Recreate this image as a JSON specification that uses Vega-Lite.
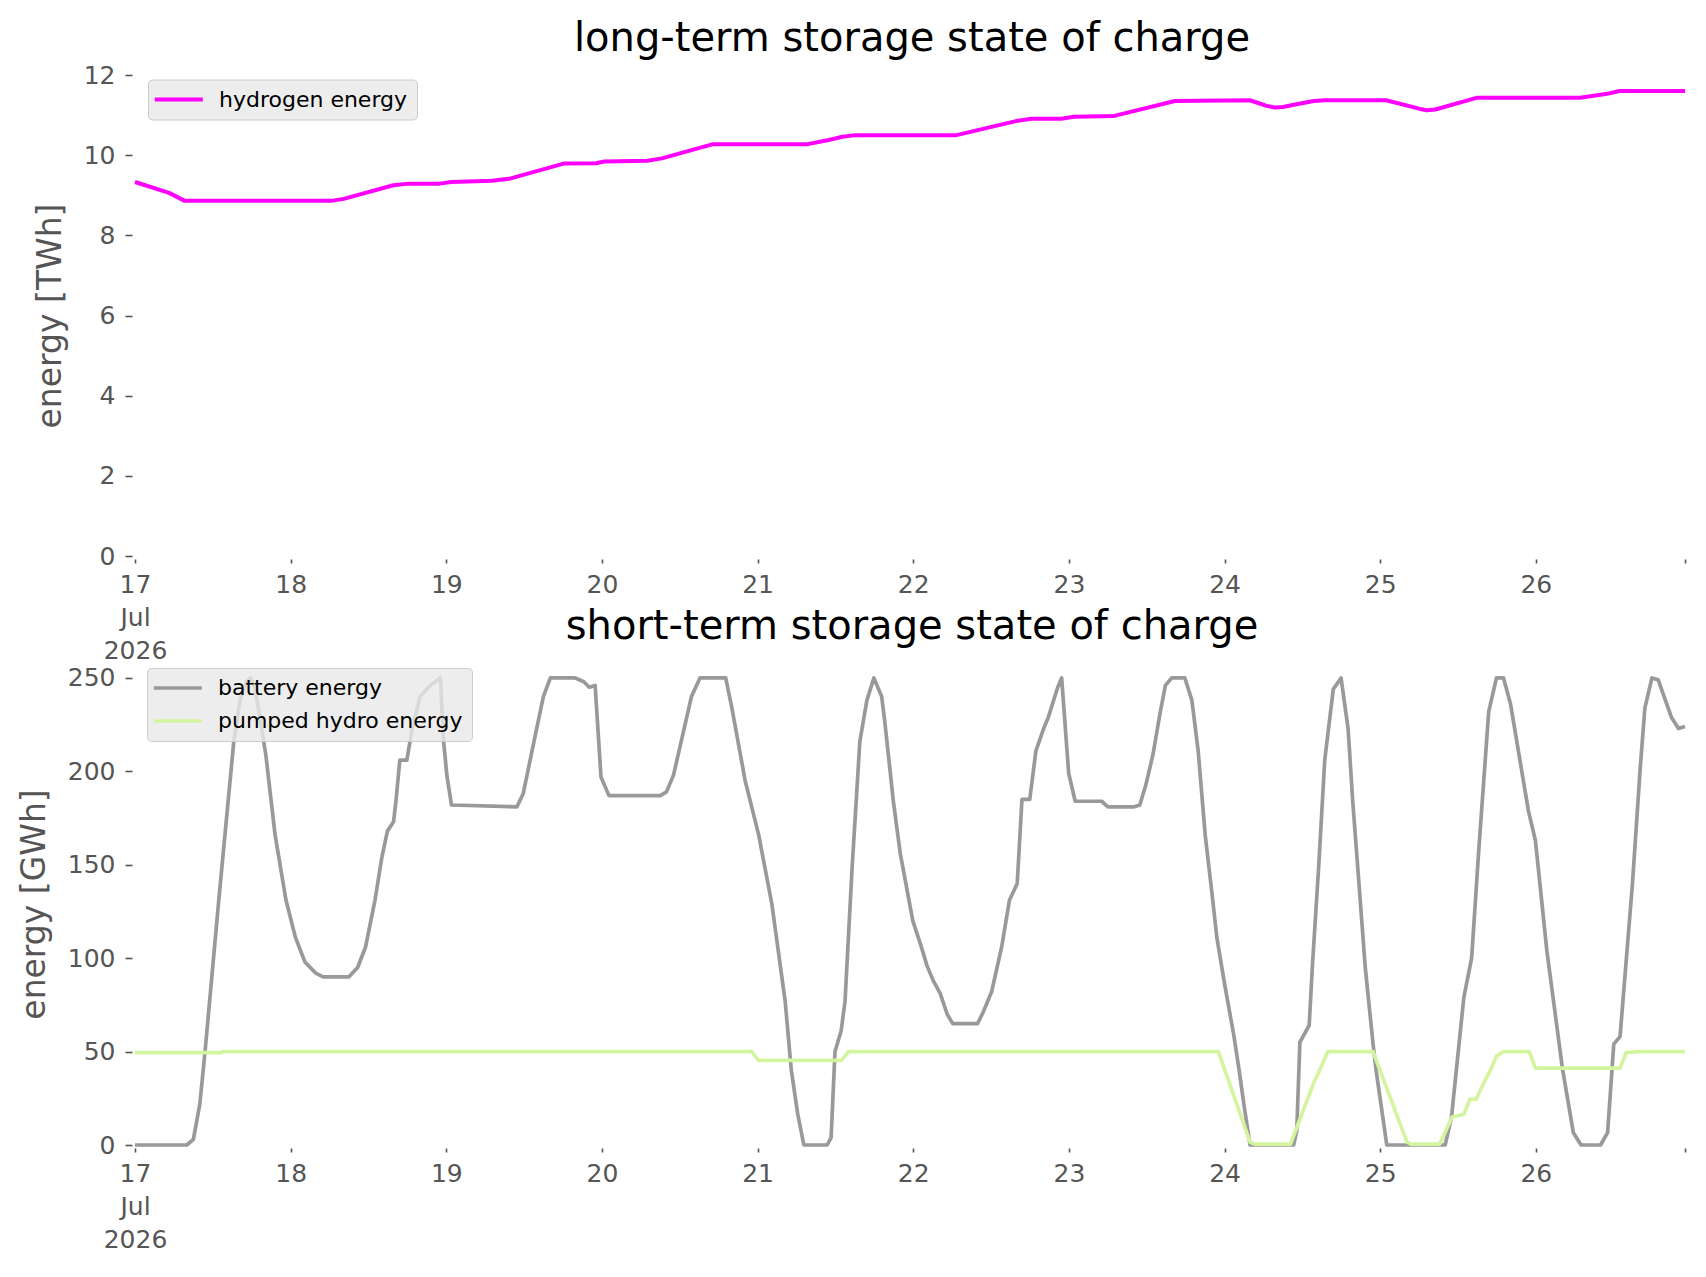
{
  "$schema": "https://vega.github.io/schema/vega-lite/v6.json",
  "background": "white",
  "padding": {"left": 18, "top": 19, "right": 10, "bottom": 10},
  "bounds": "flush",
  "spacing": 107,
  "datasets": {
    "hydrogen": [
      {"t": "2026-07-17T00:00", "carrier": "hydrogen energy", "energy": 9.33},
      {"t": "2026-07-17T05:15", "carrier": "hydrogen energy", "energy": 9.06},
      {"t": "2026-07-17T07:40", "carrier": "hydrogen energy", "energy": 8.86},
      {"t": "2026-07-18T06:15", "carrier": "hydrogen energy", "energy": 8.86},
      {"t": "2026-07-18T08:10", "carrier": "hydrogen energy", "energy": 8.91},
      {"t": "2026-07-18T15:50", "carrier": "hydrogen energy", "energy": 9.25},
      {"t": "2026-07-18T18:15", "carrier": "hydrogen energy", "energy": 9.29},
      {"t": "2026-07-18T23:00", "carrier": "hydrogen energy", "energy": 9.29},
      {"t": "2026-07-19T00:45", "carrier": "hydrogen energy", "energy": 9.33},
      {"t": "2026-07-19T07:00", "carrier": "hydrogen energy", "energy": 9.36},
      {"t": "2026-07-19T09:40", "carrier": "hydrogen energy", "energy": 9.41},
      {"t": "2026-07-19T18:05", "carrier": "hydrogen energy", "energy": 9.79},
      {"t": "2026-07-19T23:05", "carrier": "hydrogen energy", "energy": 9.80},
      {"t": "2026-07-20T00:20", "carrier": "hydrogen energy", "energy": 9.84},
      {"t": "2026-07-20T07:00", "carrier": "hydrogen energy", "energy": 9.86},
      {"t": "2026-07-20T09:15", "carrier": "hydrogen energy", "energy": 9.92},
      {"t": "2026-07-20T17:00", "carrier": "hydrogen energy", "energy": 10.27},
      {"t": "2026-07-21T07:35", "carrier": "hydrogen energy", "energy": 10.27},
      {"t": "2026-07-21T10:45", "carrier": "hydrogen energy", "energy": 10.37},
      {"t": "2026-07-21T13:05", "carrier": "hydrogen energy", "energy": 10.46},
      {"t": "2026-07-21T15:05", "carrier": "hydrogen energy", "energy": 10.50},
      {"t": "2026-07-22T06:40", "carrier": "hydrogen energy", "energy": 10.50},
      {"t": "2026-07-22T15:50", "carrier": "hydrogen energy", "energy": 10.85},
      {"t": "2026-07-22T18:15", "carrier": "hydrogen energy", "energy": 10.91},
      {"t": "2026-07-22T22:50", "carrier": "hydrogen energy", "energy": 10.91},
      {"t": "2026-07-23T00:45", "carrier": "hydrogen energy", "energy": 10.96},
      {"t": "2026-07-23T07:00", "carrier": "hydrogen energy", "energy": 10.98},
      {"t": "2026-07-23T16:20", "carrier": "hydrogen energy", "energy": 11.35},
      {"t": "2026-07-24T03:55", "carrier": "hydrogen energy", "energy": 11.37},
      {"t": "2026-07-24T06:30", "carrier": "hydrogen energy", "energy": 11.23},
      {"t": "2026-07-24T07:45", "carrier": "hydrogen energy", "energy": 11.19},
      {"t": "2026-07-24T09:00", "carrier": "hydrogen energy", "energy": 11.20},
      {"t": "2026-07-24T11:05", "carrier": "hydrogen energy", "energy": 11.27},
      {"t": "2026-07-24T13:45", "carrier": "hydrogen energy", "energy": 11.35},
      {"t": "2026-07-24T15:25", "carrier": "hydrogen energy", "energy": 11.37},
      {"t": "2026-07-25T00:55", "carrier": "hydrogen energy", "energy": 11.37},
      {"t": "2026-07-25T06:00", "carrier": "hydrogen energy", "energy": 11.16},
      {"t": "2026-07-25T07:10", "carrier": "hydrogen energy", "energy": 11.12},
      {"t": "2026-07-25T08:30", "carrier": "hydrogen energy", "energy": 11.14},
      {"t": "2026-07-25T14:50", "carrier": "hydrogen energy", "energy": 11.43},
      {"t": "2026-07-26T06:50", "carrier": "hydrogen energy", "energy": 11.43},
      {"t": "2026-07-26T11:00", "carrier": "hydrogen energy", "energy": 11.53},
      {"t": "2026-07-26T12:55", "carrier": "hydrogen energy", "energy": 11.60},
      {"t": "2026-07-26T23:00", "carrier": "hydrogen energy", "energy": 11.60}
    ],
    "short": [
      {"t": "2026-07-17T00:00", "carrier": "battery energy", "energy": 0},
      {"t": "2026-07-17T08:00", "carrier": "battery energy", "energy": 0},
      {"t": "2026-07-17T09:00", "carrier": "battery energy", "energy": 3},
      {"t": "2026-07-17T10:00", "carrier": "battery energy", "energy": 22},
      {"t": "2026-07-17T10:48", "carrier": "battery energy", "energy": 50},
      {"t": "2026-07-17T12:55", "carrier": "battery energy", "energy": 131},
      {"t": "2026-07-17T15:14", "carrier": "battery energy", "energy": 216},
      {"t": "2026-07-17T16:15", "carrier": "battery energy", "energy": 239},
      {"t": "2026-07-17T17:10", "carrier": "battery energy", "energy": 248},
      {"t": "2026-07-17T17:50", "carrier": "battery energy", "energy": 250},
      {"t": "2026-07-17T18:30", "carrier": "battery energy", "energy": 245},
      {"t": "2026-07-17T20:10", "carrier": "battery energy", "energy": 209},
      {"t": "2026-07-17T21:36", "carrier": "battery energy", "energy": 166},
      {"t": "2026-07-17T23:17", "carrier": "battery energy", "energy": 131},
      {"t": "2026-07-18T00:45", "carrier": "battery energy", "energy": 111},
      {"t": "2026-07-18T02:12", "carrier": "battery energy", "energy": 98},
      {"t": "2026-07-18T03:52", "carrier": "battery energy", "energy": 92},
      {"t": "2026-07-18T05:00", "carrier": "battery energy", "energy": 90},
      {"t": "2026-07-18T09:00", "carrier": "battery energy", "energy": 90},
      {"t": "2026-07-18T10:20", "carrier": "battery energy", "energy": 95},
      {"t": "2026-07-18T11:33", "carrier": "battery energy", "energy": 106},
      {"t": "2026-07-18T13:00", "carrier": "battery energy", "energy": 131},
      {"t": "2026-07-18T14:04", "carrier": "battery energy", "energy": 154},
      {"t": "2026-07-18T14:55", "carrier": "battery energy", "energy": 168},
      {"t": "2026-07-18T15:52", "carrier": "battery energy", "energy": 173},
      {"t": "2026-07-18T16:14", "carrier": "battery energy", "energy": 184},
      {"t": "2026-07-18T16:50", "carrier": "battery energy", "energy": 206},
      {"t": "2026-07-18T17:55", "carrier": "battery energy", "energy": 206},
      {"t": "2026-07-18T18:45", "carrier": "battery energy", "energy": 223},
      {"t": "2026-07-18T19:57", "carrier": "battery energy", "energy": 240},
      {"t": "2026-07-18T21:31", "carrier": "battery energy", "energy": 246},
      {"t": "2026-07-18T23:05", "carrier": "battery energy", "energy": 250},
      {"t": "2026-07-18T23:35", "carrier": "battery energy", "energy": 216},
      {"t": "2026-07-19T00:05", "carrier": "battery energy", "energy": 198},
      {"t": "2026-07-19T00:48", "carrier": "battery energy", "energy": 182},
      {"t": "2026-07-19T10:53", "carrier": "battery energy", "energy": 181},
      {"t": "2026-07-19T11:51", "carrier": "battery energy", "energy": 188},
      {"t": "2026-07-19T13:46", "carrier": "battery energy", "energy": 220},
      {"t": "2026-07-19T14:58", "carrier": "battery energy", "energy": 240},
      {"t": "2026-07-19T16:03", "carrier": "battery energy", "energy": 250},
      {"t": "2026-07-19T19:53", "carrier": "battery energy", "energy": 250},
      {"t": "2026-07-19T21:12", "carrier": "battery energy", "energy": 248},
      {"t": "2026-07-19T22:03", "carrier": "battery energy", "energy": 245},
      {"t": "2026-07-19T22:57", "carrier": "battery energy", "energy": 246},
      {"t": "2026-07-19T23:51", "carrier": "battery energy", "energy": 197},
      {"t": "2026-07-20T01:05", "carrier": "battery energy", "energy": 187},
      {"t": "2026-07-20T09:00", "carrier": "battery energy", "energy": 187},
      {"t": "2026-07-20T09:57", "carrier": "battery energy", "energy": 189},
      {"t": "2026-07-20T11:02", "carrier": "battery energy", "energy": 198},
      {"t": "2026-07-20T13:48", "carrier": "battery energy", "energy": 240},
      {"t": "2026-07-20T15:07", "carrier": "battery energy", "energy": 250},
      {"t": "2026-07-20T19:05", "carrier": "battery energy", "energy": 250},
      {"t": "2026-07-20T20:02", "carrier": "battery energy", "energy": 234},
      {"t": "2026-07-20T22:05", "carrier": "battery energy", "energy": 195},
      {"t": "2026-07-21T00:10", "carrier": "battery energy", "energy": 166},
      {"t": "2026-07-21T02:12", "carrier": "battery energy", "energy": 129},
      {"t": "2026-07-21T04:15", "carrier": "battery energy", "energy": 77},
      {"t": "2026-07-21T05:12", "carrier": "battery energy", "energy": 40},
      {"t": "2026-07-21T06:10", "carrier": "battery energy", "energy": 17},
      {"t": "2026-07-21T07:08", "carrier": "battery energy", "energy": 0},
      {"t": "2026-07-21T10:44", "carrier": "battery energy", "energy": 0},
      {"t": "2026-07-21T11:20", "carrier": "battery energy", "energy": 4},
      {"t": "2026-07-21T11:56", "carrier": "battery energy", "energy": 50},
      {"t": "2026-07-21T12:53", "carrier": "battery energy", "energy": 61},
      {"t": "2026-07-21T13:29", "carrier": "battery energy", "energy": 77},
      {"t": "2026-07-21T14:34", "carrier": "battery energy", "energy": 148},
      {"t": "2026-07-21T15:46", "carrier": "battery energy", "energy": 216},
      {"t": "2026-07-21T16:51", "carrier": "battery energy", "energy": 238},
      {"t": "2026-07-21T17:56", "carrier": "battery energy", "energy": 250},
      {"t": "2026-07-21T19:08", "carrier": "battery energy", "energy": 240},
      {"t": "2026-07-21T19:36", "carrier": "battery energy", "energy": 227},
      {"t": "2026-07-21T20:56", "carrier": "battery energy", "energy": 184},
      {"t": "2026-07-21T22:00", "carrier": "battery energy", "energy": 156},
      {"t": "2026-07-21T22:58", "carrier": "battery energy", "energy": 138},
      {"t": "2026-07-21T23:56", "carrier": "battery energy", "energy": 120},
      {"t": "2026-07-22T01:10", "carrier": "battery energy", "energy": 107},
      {"t": "2026-07-22T02:07", "carrier": "battery energy", "energy": 96},
      {"t": "2026-07-22T03:05", "carrier": "battery energy", "energy": 88},
      {"t": "2026-07-22T04:10", "carrier": "battery energy", "energy": 81},
      {"t": "2026-07-22T05:14", "carrier": "battery energy", "energy": 70},
      {"t": "2026-07-22T06:05", "carrier": "battery energy", "energy": 65},
      {"t": "2026-07-22T09:55", "carrier": "battery energy", "energy": 65},
      {"t": "2026-07-22T10:46", "carrier": "battery energy", "energy": 71},
      {"t": "2026-07-22T12:05", "carrier": "battery energy", "energy": 82},
      {"t": "2026-07-22T13:38", "carrier": "battery energy", "energy": 106},
      {"t": "2026-07-22T14:50", "carrier": "battery energy", "energy": 131},
      {"t": "2026-07-22T16:02", "carrier": "battery energy", "energy": 140},
      {"t": "2026-07-22T16:46", "carrier": "battery energy", "energy": 185},
      {"t": "2026-07-22T17:58", "carrier": "battery energy", "energy": 185},
      {"t": "2026-07-22T18:55", "carrier": "battery energy", "energy": 211},
      {"t": "2026-07-22T20:07", "carrier": "battery energy", "energy": 223},
      {"t": "2026-07-22T20:50", "carrier": "battery energy", "energy": 229},
      {"t": "2026-07-22T22:17", "carrier": "battery energy", "energy": 245},
      {"t": "2026-07-22T22:53", "carrier": "battery energy", "energy": 250},
      {"t": "2026-07-22T23:58", "carrier": "battery energy", "energy": 199},
      {"t": "2026-07-23T00:58", "carrier": "battery energy", "energy": 184},
      {"t": "2026-07-23T05:03", "carrier": "battery energy", "energy": 184},
      {"t": "2026-07-23T06:01", "carrier": "battery energy", "energy": 181},
      {"t": "2026-07-23T10:05", "carrier": "battery energy", "energy": 181},
      {"t": "2026-07-23T10:56", "carrier": "battery energy", "energy": 182},
      {"t": "2026-07-23T11:53", "carrier": "battery energy", "energy": 193},
      {"t": "2026-07-23T12:58", "carrier": "battery energy", "energy": 209},
      {"t": "2026-07-23T14:03", "carrier": "battery energy", "energy": 231},
      {"t": "2026-07-23T14:53", "carrier": "battery energy", "energy": 246},
      {"t": "2026-07-23T15:51", "carrier": "battery energy", "energy": 250},
      {"t": "2026-07-23T17:53", "carrier": "battery energy", "energy": 250},
      {"t": "2026-07-23T18:58", "carrier": "battery energy", "energy": 238},
      {"t": "2026-07-23T19:56", "carrier": "battery energy", "energy": 211},
      {"t": "2026-07-23T21:01", "carrier": "battery energy", "energy": 166},
      {"t": "2026-07-23T22:05", "carrier": "battery energy", "energy": 134},
      {"t": "2026-07-23T22:49", "carrier": "battery energy", "energy": 111},
      {"t": "2026-07-24T00:01", "carrier": "battery energy", "energy": 86},
      {"t": "2026-07-24T01:25", "carrier": "battery energy", "energy": 59},
      {"t": "2026-07-24T02:15", "carrier": "battery energy", "energy": 40},
      {"t": "2026-07-24T03:06", "carrier": "battery energy", "energy": 19},
      {"t": "2026-07-24T03:56", "carrier": "battery energy", "energy": 0},
      {"t": "2026-07-24T10:39", "carrier": "battery energy", "energy": 0},
      {"t": "2026-07-24T11:08", "carrier": "battery energy", "energy": 7.5},
      {"t": "2026-07-24T11:37", "carrier": "battery energy", "energy": 55},
      {"t": "2026-07-24T13:03", "carrier": "battery energy", "energy": 64},
      {"t": "2026-07-24T13:32", "carrier": "battery energy", "energy": 95},
      {"t": "2026-07-24T14:30", "carrier": "battery energy", "energy": 148},
      {"t": "2026-07-24T15:27", "carrier": "battery energy", "energy": 206},
      {"t": "2026-07-24T16:46", "carrier": "battery energy", "energy": 244},
      {"t": "2026-07-24T17:58", "carrier": "battery energy", "energy": 250},
      {"t": "2026-07-24T19:03", "carrier": "battery energy", "energy": 223},
      {"t": "2026-07-24T19:46", "carrier": "battery energy", "energy": 184},
      {"t": "2026-07-24T20:37", "carrier": "battery energy", "energy": 145},
      {"t": "2026-07-24T21:42", "carrier": "battery energy", "energy": 95},
      {"t": "2026-07-24T22:54", "carrier": "battery energy", "energy": 54},
      {"t": "2026-07-24T23:22", "carrier": "battery energy", "energy": 40},
      {"t": "2026-07-25T01:01", "carrier": "battery energy", "energy": 0},
      {"t": "2026-07-25T10:01", "carrier": "battery energy", "energy": 0},
      {"t": "2026-07-25T10:59", "carrier": "battery energy", "energy": 14.6},
      {"t": "2026-07-25T12:54", "carrier": "battery energy", "energy": 79},
      {"t": "2026-07-25T14:06", "carrier": "battery energy", "energy": 100},
      {"t": "2026-07-25T15:11", "carrier": "battery energy", "energy": 157},
      {"t": "2026-07-25T16:44", "carrier": "battery energy", "energy": 232},
      {"t": "2026-07-25T17:56", "carrier": "battery energy", "energy": 250},
      {"t": "2026-07-25T19:01", "carrier": "battery energy", "energy": 250},
      {"t": "2026-07-25T20:06", "carrier": "battery energy", "energy": 236},
      {"t": "2026-07-25T22:51", "carrier": "battery energy", "energy": 179},
      {"t": "2026-07-25T23:56", "carrier": "battery energy", "energy": 163},
      {"t": "2026-07-26T01:42", "carrier": "battery energy", "energy": 104},
      {"t": "2026-07-26T04:06", "carrier": "battery energy", "energy": 41},
      {"t": "2026-07-26T05:47", "carrier": "battery energy", "energy": 6.6},
      {"t": "2026-07-26T06:59", "carrier": "battery energy", "energy": 0},
      {"t": "2026-07-26T09:59", "carrier": "battery energy", "energy": 0},
      {"t": "2026-07-26T11:04", "carrier": "battery energy", "energy": 6.6},
      {"t": "2026-07-26T12:01", "carrier": "battery energy", "energy": 54},
      {"t": "2026-07-26T12:59", "carrier": "battery energy", "energy": 58},
      {"t": "2026-07-26T14:54", "carrier": "battery energy", "energy": 140},
      {"t": "2026-07-26T16:06", "carrier": "battery energy", "energy": 202},
      {"t": "2026-07-26T16:49", "carrier": "battery energy", "energy": 234},
      {"t": "2026-07-26T17:54", "carrier": "battery energy", "energy": 250},
      {"t": "2026-07-26T18:52", "carrier": "battery energy", "energy": 249},
      {"t": "2026-07-26T20:54", "carrier": "battery energy", "energy": 229},
      {"t": "2026-07-26T22:00", "carrier": "battery energy", "energy": 223},
      {"t": "2026-07-26T23:00", "carrier": "battery energy", "energy": 224},
      {"t": "2026-07-17T00:00", "carrier": "pumped hydro energy", "energy": 49.4},
      {"t": "2026-07-17T13:10", "carrier": "pumped hydro energy", "energy": 49.4},
      {"t": "2026-07-17T13:40", "carrier": "pumped hydro energy", "energy": 50},
      {"t": "2026-07-20T23:05", "carrier": "pumped hydro energy", "energy": 50},
      {"t": "2026-07-21T00:10", "carrier": "pumped hydro energy", "energy": 45.3},
      {"t": "2026-07-21T12:53", "carrier": "pumped hydro energy", "energy": 45.3},
      {"t": "2026-07-21T14:05", "carrier": "pumped hydro energy", "energy": 50},
      {"t": "2026-07-23T23:03", "carrier": "pumped hydro energy", "energy": 50},
      {"t": "2026-07-24T03:56", "carrier": "pumped hydro energy", "energy": 1.5},
      {"t": "2026-07-24T04:40", "carrier": "pumped hydro energy", "energy": 0.5},
      {"t": "2026-07-24T10:10", "carrier": "pumped hydro energy", "energy": 0.5},
      {"t": "2026-07-24T13:46", "carrier": "pumped hydro energy", "energy": 33.4},
      {"t": "2026-07-24T14:44", "carrier": "pumped hydro energy", "energy": 40.5},
      {"t": "2026-07-24T15:56", "carrier": "pumped hydro energy", "energy": 50},
      {"t": "2026-07-24T22:54", "carrier": "pumped hydro energy", "energy": 50},
      {"t": "2026-07-25T04:08", "carrier": "pumped hydro energy", "energy": 1.5},
      {"t": "2026-07-25T04:44", "carrier": "pumped hydro energy", "energy": 0.5},
      {"t": "2026-07-25T09:11", "carrier": "pumped hydro energy", "energy": 0.5},
      {"t": "2026-07-25T11:06", "carrier": "pumped hydro energy", "energy": 15},
      {"t": "2026-07-25T12:54", "carrier": "pumped hydro energy", "energy": 16.4},
      {"t": "2026-07-25T13:51", "carrier": "pumped hydro energy", "energy": 24.6},
      {"t": "2026-07-25T14:49", "carrier": "pumped hydro energy", "energy": 24.6},
      {"t": "2026-07-25T16:01", "carrier": "pumped hydro energy", "energy": 33.6},
      {"t": "2026-07-25T16:59", "carrier": "pumped hydro energy", "energy": 39.8},
      {"t": "2026-07-25T17:56", "carrier": "pumped hydro energy", "energy": 47.6},
      {"t": "2026-07-25T19:01", "carrier": "pumped hydro energy", "energy": 50},
      {"t": "2026-07-25T22:59", "carrier": "pumped hydro energy", "energy": 50},
      {"t": "2026-07-25T23:56", "carrier": "pumped hydro energy", "energy": 41.2},
      {"t": "2026-07-26T12:59", "carrier": "pumped hydro energy", "energy": 41.2},
      {"t": "2026-07-26T13:56", "carrier": "pumped hydro energy", "energy": 49.4},
      {"t": "2026-07-26T15:37", "carrier": "pumped hydro energy", "energy": 50},
      {"t": "2026-07-26T23:00", "carrier": "pumped hydro energy", "energy": 50}
    ]
  },
  "vconcat": [
    {
      "title": {"text": "long-term storage state of charge", "offset": 4},
      "width": 1550,
      "height": 481,
      "data": {"name": "hydrogen"},
      "mark": {"type": "line", "strokeWidth": 4, "strokeJoin": "round"},
      "encoding": {
        "x": {
          "field": "t",
          "type": "temporal",
          "scale": {
            "domain": [
              {"year": 2026, "month": 7, "date": 17},
              {"year": 2026, "month": 7, "date": 26, "hours": 23}
            ],
            "nice": false
          },
          "axis": {
            "title": null,
            "values": [
              {"year": 2026, "month": 7, "date": 17},
              {"year": 2026, "month": 7, "date": 18},
              {"year": 2026, "month": 7, "date": 19},
              {"year": 2026, "month": 7, "date": 20},
              {"year": 2026, "month": 7, "date": 21},
              {"year": 2026, "month": 7, "date": 22},
              {"year": 2026, "month": 7, "date": 23},
              {"year": 2026, "month": 7, "date": 24},
              {"year": 2026, "month": 7, "date": 25},
              {"year": 2026, "month": 7, "date": 26},
              {"year": 2026, "month": 7, "date": 26, "hours": 23}
            ],
            "labelExpr": "hours(datum.value) == 23 ? '' : date(datum.value) == 17 ? ['17', 'Jul', '2026'] : '' + date(datum.value)"
          }
        },
        "y": {
          "field": "energy",
          "type": "quantitative",
          "scale": {"domain": [0, 12], "nice": false},
          "axis": {"title": "energy [TWh]", "values": [0, 2, 4, 6, 8, 10, 12]}
        },
        "color": {
          "field": "carrier",
          "type": "nominal",
          "scale": {"domain": ["hydrogen energy"], "range": ["#ff00ff"]},
          "legend": {"title": null, "orient": "none", "legendX": 13, "legendY": 4.5, "symbolStrokeWidth": 4}
        }
      }
    },
    {
      "title": {"text": "short-term storage state of charge", "offset": 16},
      "width": 1550,
      "height": 482,
      "data": {"name": "short"},
      "encoding": {
        "x": {
          "field": "t",
          "type": "temporal",
          "scale": {
            "domain": [
              {"year": 2026, "month": 7, "date": 17},
              {"year": 2026, "month": 7, "date": 26, "hours": 23}
            ],
            "nice": false
          },
          "axis": {
            "title": null,
            "values": [
              {"year": 2026, "month": 7, "date": 17},
              {"year": 2026, "month": 7, "date": 18},
              {"year": 2026, "month": 7, "date": 19},
              {"year": 2026, "month": 7, "date": 20},
              {"year": 2026, "month": 7, "date": 21},
              {"year": 2026, "month": 7, "date": 22},
              {"year": 2026, "month": 7, "date": 23},
              {"year": 2026, "month": 7, "date": 24},
              {"year": 2026, "month": 7, "date": 25},
              {"year": 2026, "month": 7, "date": 26},
              {"year": 2026, "month": 7, "date": 26, "hours": 23}
            ],
            "labelExpr": "hours(datum.value) == 23 ? '' : date(datum.value) == 17 ? ['17', 'Jul', '2026'] : '' + date(datum.value)"
          }
        },
        "y": {
          "field": "energy",
          "type": "quantitative",
          "scale": {"domain": [0, 258], "nice": false},
          "axis": {"title": "energy [GWh]", "values": [0, 50, 100, 150, 200, 250]}
        },
        "color": {
          "field": "carrier",
          "type": "nominal",
          "scale": {"domain": ["battery energy", "pumped hydro energy"], "range": ["#999999", "#d4f5a0"]},
          "legend": {"title": null, "orient": "none", "legendX": 12, "legendY": 5}
        }
      },
      "layer": [
        {
          "transform": [{"filter": "datum.carrier == 'battery energy'"}],
          "mark": {"type": "line", "strokeWidth": 3.7, "strokeJoin": "round"}
        },
        {
          "transform": [{"filter": "datum.carrier == 'pumped hydro energy'"}],
          "mark": {"type": "line", "strokeWidth": 3.7, "strokeJoin": "round"}
        }
      ]
    }
  ],
  "resolve": {"scale": {"color": "independent", "x": "independent", "y": "independent"}},
  "config": {
    "view": {"stroke": null},
    "font": "DejaVu Sans",
    "axis": {
      "domain": false,
      "grid": false,
      "offset": 3,
      "labelFont": "DejaVu Sans",
      "labelFontSize": 25,
      "labelColor": "#555555",
      "tickColor": "#555555",
      "tickWidth": 1.6,
      "titleFont": "DejaVu Sans",
      "titleFontSize": 33,
      "titleFontWeight": "normal",
      "titleColor": "#555555"
    },
    "axisX": {
      "tickSize": 4,
      "labelPadding": 9,
      "labelFlush": false,
      "labelOverlap": false,
      "labelBound": false,
      "labelLineHeight": 33
    },
    "axisY": {"tickSize": 7, "labelPadding": 10, "titlePadding": 16},
    "legend": {
      "fillColor": "rgba(232,232,232,0.8)",
      "strokeColor": "#cccccc",
      "cornerRadius": 4,
      "padding": 9,
      "symbolType": "M-2.2,0H5.8",
      "symbolSize": 144,
      "symbolStrokeWidth": 3.7,
      "labelFont": "DejaVu Sans",
      "labelFontSize": 22,
      "labelColor": "black",
      "labelOffset": 40,
      "labelLimit": 400,
      "rowPadding": 11
    },
    "title": {
      "font": "DejaVu Sans",
      "fontSize": 40,
      "fontWeight": "normal",
      "color": "black",
      "anchor": "middle",
      "frame": "group",
      "dx": 2
    }
  }
}
